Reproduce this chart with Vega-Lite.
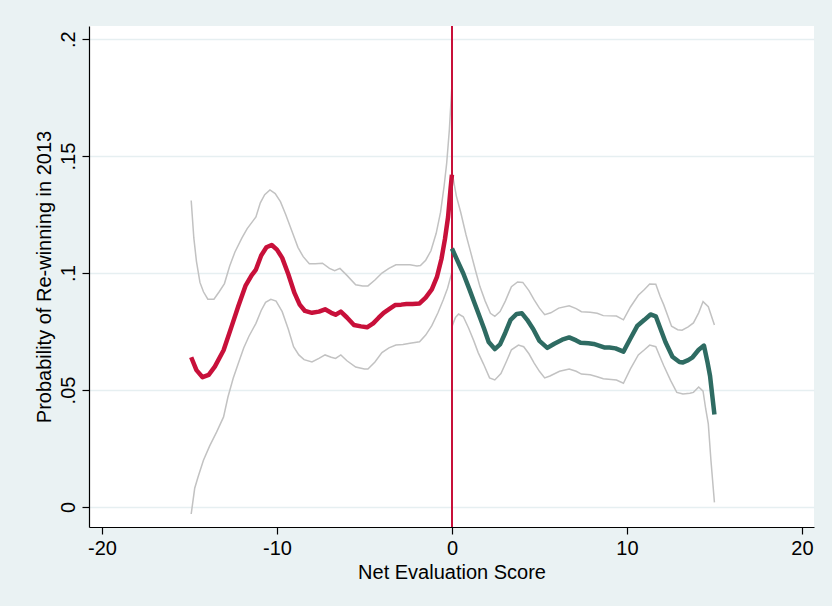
{
  "$schema": "https://vega.github.io/schema/vega-lite/v6.json",
  "width": 725,
  "height": 501,
  "autosize": {"type": "none"},
  "padding": {"left": 89, "top": 26, "right": 18, "bottom": 79},
  "background": "#EAF2F3",
  "config": {
    "view": {"stroke": null, "fill": "white"},
    "font": "Liberation Sans",
    "axis": {
      "domainColor": "#000000",
      "domainWidth": 1.2,
      "tickColor": "#000000",
      "tickWidth": 1.2,
      "tickSize": 7,
      "labelFontSize": 20,
      "labelColor": "#000000",
      "titleFontSize": 20,
      "titleFontWeight": "normal",
      "titleColor": "#000000"
    }
  },
  "data": {
    "values": [
      {"s":"fitL","x":-14.9,"y":0.0640},{"s":"fitL","x":-14.6,"y":0.0585},{"s":"fitL","x":-14.25,"y":0.0555},{"s":"fitL","x":-13.9,"y":0.0565},{"s":"fitL","x":-13.55,"y":0.0600},{"s":"fitL","x":-13.05,"y":0.0670},{"s":"fitL","x":-12.6,"y":0.0770},{"s":"fitL","x":-12.2,"y":0.0860},{"s":"fitL","x":-11.8,"y":0.0945},{"s":"fitL","x":-11.45,"y":0.0990},{"s":"fitL","x":-11.2,"y":0.1015},{"s":"fitL","x":-10.9,"y":0.1075},{"s":"fitL","x":-10.6,"y":0.1110},{"s":"fitL","x":-10.3,"y":0.1120},{"s":"fitL","x":-10.0,"y":0.1100},{"s":"fitL","x":-9.7,"y":0.1065},{"s":"fitL","x":-9.35,"y":0.0995},{"s":"fitL","x":-9.0,"y":0.0915},{"s":"fitL","x":-8.7,"y":0.0865},{"s":"fitL","x":-8.4,"y":0.0838},{"s":"fitL","x":-8.0,"y":0.0830},{"s":"fitL","x":-7.6,"y":0.0835},{"s":"fitL","x":-7.25,"y":0.0845},{"s":"fitL","x":-6.9,"y":0.0830},{"s":"fitL","x":-6.65,"y":0.0822},{"s":"fitL","x":-6.35,"y":0.0835},{"s":"fitL","x":-6.0,"y":0.0810},{"s":"fitL","x":-5.6,"y":0.0778},{"s":"fitL","x":-5.2,"y":0.0772},{"s":"fitL","x":-4.85,"y":0.0768},{"s":"fitL","x":-4.5,"y":0.0785},{"s":"fitL","x":-4.2,"y":0.0808},{"s":"fitL","x":-3.9,"y":0.0830},{"s":"fitL","x":-3.55,"y":0.0848},{"s":"fitL","x":-3.25,"y":0.0863},{"s":"fitL","x":-2.9,"y":0.0865},{"s":"fitL","x":-2.6,"y":0.0868},{"s":"fitL","x":-2.25,"y":0.0868},{"s":"fitL","x":-1.85,"y":0.0870},{"s":"fitL","x":-1.5,"y":0.0895},{"s":"fitL","x":-1.15,"y":0.0930},{"s":"fitL","x":-0.85,"y":0.0985},{"s":"fitL","x":-0.6,"y":0.1060},{"s":"fitL","x":-0.4,"y":0.1145},{"s":"fitL","x":-0.22,"y":0.1240},{"s":"fitL","x":-0.08,"y":0.1360},{"s":"fitL","x":0,"y":0.1420},
      {"s":"hiL","x":-14.9,"y":0.1310},{"s":"hiL","x":-14.75,"y":0.1150},{"s":"hiL","x":-14.6,"y":0.1050},{"s":"hiL","x":-14.4,"y":0.0960},{"s":"hiL","x":-14.2,"y":0.0920},{"s":"hiL","x":-13.95,"y":0.0888},{"s":"hiL","x":-13.6,"y":0.0888},{"s":"hiL","x":-13.3,"y":0.0920},{"s":"hiL","x":-13.0,"y":0.0955},{"s":"hiL","x":-12.7,"y":0.1030},{"s":"hiL","x":-12.4,"y":0.1090},{"s":"hiL","x":-12.0,"y":0.1150},{"s":"hiL","x":-11.7,"y":0.1190},{"s":"hiL","x":-11.4,"y":0.1220},{"s":"hiL","x":-11.2,"y":0.1240},{"s":"hiL","x":-10.95,"y":0.1300},{"s":"hiL","x":-10.7,"y":0.1335},{"s":"hiL","x":-10.4,"y":0.1355},{"s":"hiL","x":-10.1,"y":0.1340},{"s":"hiL","x":-9.8,"y":0.1305},{"s":"hiL","x":-9.5,"y":0.1250},{"s":"hiL","x":-9.1,"y":0.1170},{"s":"hiL","x":-8.8,"y":0.1110},{"s":"hiL","x":-8.5,"y":0.1070},{"s":"hiL","x":-8.15,"y":0.1040},{"s":"hiL","x":-7.8,"y":0.1040},{"s":"hiL","x":-7.4,"y":0.1042},{"s":"hiL","x":-7.0,"y":0.1020},{"s":"hiL","x":-6.7,"y":0.1010},{"s":"hiL","x":-6.4,"y":0.1020},{"s":"hiL","x":-6.0,"y":0.0990},{"s":"hiL","x":-5.5,"y":0.0950},{"s":"hiL","x":-5.1,"y":0.0945},{"s":"hiL","x":-4.8,"y":0.0945},{"s":"hiL","x":-4.4,"y":0.0970},{"s":"hiL","x":-4.0,"y":0.1000},{"s":"hiL","x":-3.6,"y":0.1020},{"s":"hiL","x":-3.2,"y":0.1035},{"s":"hiL","x":-2.8,"y":0.1035},{"s":"hiL","x":-2.4,"y":0.1035},{"s":"hiL","x":-2.0,"y":0.1030},{"s":"hiL","x":-1.8,"y":0.1032},{"s":"hiL","x":-1.5,"y":0.1055},{"s":"hiL","x":-1.2,"y":0.1095},{"s":"hiL","x":-0.9,"y":0.1170},{"s":"hiL","x":-0.65,"y":0.1260},{"s":"hiL","x":-0.45,"y":0.1370},{"s":"hiL","x":-0.3,"y":0.1470},{"s":"hiL","x":-0.15,"y":0.1610},{"s":"hiL","x":0,"y":0.1805},
      {"s":"loL","x":-14.9,"y":-0.0030},{"s":"loL","x":-14.7,"y":0.0080},{"s":"loL","x":-14.5,"y":0.0130},{"s":"loL","x":-14.2,"y":0.0200},{"s":"loL","x":-13.85,"y":0.0260},{"s":"loL","x":-13.45,"y":0.0320},{"s":"loL","x":-13.05,"y":0.0385},{"s":"loL","x":-12.8,"y":0.0470},{"s":"loL","x":-12.5,"y":0.0550},{"s":"loL","x":-12.2,"y":0.0615},{"s":"loL","x":-11.9,"y":0.0680},{"s":"loL","x":-11.6,"y":0.0730},{"s":"loL","x":-11.2,"y":0.0785},{"s":"loL","x":-10.9,"y":0.0840},{"s":"loL","x":-10.65,"y":0.0875},{"s":"loL","x":-10.35,"y":0.0888},{"s":"loL","x":-10.05,"y":0.0880},{"s":"loL","x":-9.7,"y":0.0835},{"s":"loL","x":-9.35,"y":0.0760},{"s":"loL","x":-9.05,"y":0.0685},{"s":"loL","x":-8.75,"y":0.0650},{"s":"loL","x":-8.45,"y":0.0630},{"s":"loL","x":-8.0,"y":0.0620},{"s":"loL","x":-7.6,"y":0.0635},{"s":"loL","x":-7.25,"y":0.0650},{"s":"loL","x":-6.9,"y":0.0640},{"s":"loL","x":-6.65,"y":0.0635},{"s":"loL","x":-6.35,"y":0.0650},{"s":"loL","x":-6.0,"y":0.0625},{"s":"loL","x":-5.5,"y":0.0598},{"s":"loL","x":-5.0,"y":0.0590},{"s":"loL","x":-4.8,"y":0.0590},{"s":"loL","x":-4.4,"y":0.0620},{"s":"loL","x":-4.0,"y":0.0660},{"s":"loL","x":-3.6,"y":0.0680},{"s":"loL","x":-3.2,"y":0.0692},{"s":"loL","x":-2.8,"y":0.0695},{"s":"loL","x":-2.4,"y":0.0700},{"s":"loL","x":-1.85,"y":0.0706},{"s":"loL","x":-1.5,"y":0.0735},{"s":"loL","x":-1.15,"y":0.0775},{"s":"loL","x":-0.8,"y":0.0830},{"s":"loL","x":-0.5,"y":0.0885},{"s":"loL","x":-0.25,"y":0.0935},{"s":"loL","x":0,"y":0.1005},
      {"s":"fitR","x":0,"y":0.1105},{"s":"fitR","x":0.3,"y":0.1055},{"s":"fitR","x":0.65,"y":0.0998},{"s":"fitR","x":1.0,"y":0.0930},{"s":"fitR","x":1.3,"y":0.0870},{"s":"fitR","x":1.6,"y":0.0810},{"s":"fitR","x":1.85,"y":0.0760},{"s":"fitR","x":2.1,"y":0.0705},{"s":"fitR","x":2.45,"y":0.0675},{"s":"fitR","x":2.75,"y":0.0695},{"s":"fitR","x":3.05,"y":0.0745},{"s":"fitR","x":3.35,"y":0.0800},{"s":"fitR","x":3.7,"y":0.0825},{"s":"fitR","x":4.0,"y":0.0828},{"s":"fitR","x":4.3,"y":0.0800},{"s":"fitR","x":4.65,"y":0.0760},{"s":"fitR","x":5.0,"y":0.0710},{"s":"fitR","x":5.45,"y":0.0680},{"s":"fitR","x":5.85,"y":0.0698},{"s":"fitR","x":6.3,"y":0.0715},{"s":"fitR","x":6.7,"y":0.0725},{"s":"fitR","x":7.1,"y":0.0712},{"s":"fitR","x":7.35,"y":0.0702},{"s":"fitR","x":7.8,"y":0.0700},{"s":"fitR","x":8.1,"y":0.0697},{"s":"fitR","x":8.4,"y":0.0690},{"s":"fitR","x":8.7,"y":0.0682},{"s":"fitR","x":9.0,"y":0.0682},{"s":"fitR","x":9.35,"y":0.0678},{"s":"fitR","x":9.8,"y":0.0664},{"s":"fitR","x":10.2,"y":0.0720},{"s":"fitR","x":10.6,"y":0.0775},{"s":"fitR","x":11.0,"y":0.0800},{"s":"fitR","x":11.35,"y":0.0823},{"s":"fitR","x":11.65,"y":0.0815},{"s":"fitR","x":11.9,"y":0.0765},{"s":"fitR","x":12.2,"y":0.0705},{"s":"fitR","x":12.6,"y":0.0642},{"s":"fitR","x":13.0,"y":0.0620},{"s":"fitR","x":13.2,"y":0.0618},{"s":"fitR","x":13.5,"y":0.0628},{"s":"fitR","x":13.75,"y":0.0640},{"s":"fitR","x":14.1,"y":0.0672},{"s":"fitR","x":14.4,"y":0.0690},{"s":"fitR","x":14.6,"y":0.0620},{"s":"fitR","x":14.75,"y":0.0560},{"s":"fitR","x":15.0,"y":0.0395},
      {"s":"hiR","x":0,"y":0.1435},{"s":"hiR","x":0.25,"y":0.1330},{"s":"hiR","x":0.5,"y":0.1260},{"s":"hiR","x":0.8,"y":0.1165},{"s":"hiR","x":1.05,"y":0.1095},{"s":"hiR","x":1.35,"y":0.1010},{"s":"hiR","x":1.6,"y":0.0942},{"s":"hiR","x":1.9,"y":0.0880},{"s":"hiR","x":2.2,"y":0.0828},{"s":"hiR","x":2.45,"y":0.0815},{"s":"hiR","x":2.75,"y":0.0835},{"s":"hiR","x":3.05,"y":0.0880},{"s":"hiR","x":3.4,"y":0.0942},{"s":"hiR","x":3.75,"y":0.0962},{"s":"hiR","x":4.05,"y":0.0960},{"s":"hiR","x":4.4,"y":0.0925},{"s":"hiR","x":4.7,"y":0.0885},{"s":"hiR","x":5.0,"y":0.0850},{"s":"hiR","x":5.3,"y":0.0822},{"s":"hiR","x":5.65,"y":0.0830},{"s":"hiR","x":6.1,"y":0.0850},{"s":"hiR","x":6.7,"y":0.0860},{"s":"hiR","x":7.1,"y":0.0848},{"s":"hiR","x":7.4,"y":0.0835},{"s":"hiR","x":7.9,"y":0.0832},{"s":"hiR","x":8.3,"y":0.0828},{"s":"hiR","x":8.65,"y":0.0818},{"s":"hiR","x":9.4,"y":0.0816},{"s":"hiR","x":9.8,"y":0.0800},{"s":"hiR","x":10.2,"y":0.0855},{"s":"hiR","x":10.65,"y":0.0905},{"s":"hiR","x":11.0,"y":0.0930},{"s":"hiR","x":11.3,"y":0.0953},{"s":"hiR","x":11.65,"y":0.0952},{"s":"hiR","x":11.9,"y":0.0900},{"s":"hiR","x":12.1,"y":0.0865},{"s":"hiR","x":12.55,"y":0.0773},{"s":"hiR","x":12.9,"y":0.0758},{"s":"hiR","x":13.15,"y":0.0756},{"s":"hiR","x":13.5,"y":0.0770},{"s":"hiR","x":13.8,"y":0.0787},{"s":"hiR","x":14.1,"y":0.0830},{"s":"hiR","x":14.35,"y":0.0878},{"s":"hiR","x":14.65,"y":0.0856},{"s":"hiR","x":15.0,"y":0.0778},
      {"s":"loR","x":0,"y":0.0771},{"s":"loR","x":0.2,"y":0.0810},{"s":"loR","x":0.38,"y":0.0825},{"s":"loR","x":0.65,"y":0.0813},{"s":"loR","x":0.95,"y":0.0765},{"s":"loR","x":1.25,"y":0.0710},{"s":"loR","x":1.5,"y":0.0660},{"s":"loR","x":1.8,"y":0.0612},{"s":"loR","x":2.15,"y":0.0552},{"s":"loR","x":2.45,"y":0.0543},{"s":"loR","x":2.8,"y":0.0570},{"s":"loR","x":3.1,"y":0.0620},{"s":"loR","x":3.4,"y":0.0672},{"s":"loR","x":3.8,"y":0.0692},{"s":"loR","x":4.1,"y":0.0685},{"s":"loR","x":4.4,"y":0.0655},{"s":"loR","x":4.7,"y":0.0615},{"s":"loR","x":5.0,"y":0.0580},{"s":"loR","x":5.3,"y":0.0552},{"s":"loR","x":5.6,"y":0.0560},{"s":"loR","x":6.15,"y":0.0580},{"s":"loR","x":6.7,"y":0.0590},{"s":"loR","x":7.1,"y":0.0580},{"s":"loR","x":7.4,"y":0.0568},{"s":"loR","x":7.9,"y":0.0565},{"s":"loR","x":8.3,"y":0.0557},{"s":"loR","x":8.65,"y":0.0548},{"s":"loR","x":9.4,"y":0.0543},{"s":"loR","x":9.8,"y":0.0529},{"s":"loR","x":10.2,"y":0.0590},{"s":"loR","x":10.65,"y":0.0650},{"s":"loR","x":11.0,"y":0.0672},{"s":"loR","x":11.3,"y":0.0692},{"s":"loR","x":11.65,"y":0.0685},{"s":"loR","x":11.9,"y":0.0640},{"s":"loR","x":12.1,"y":0.0605},{"s":"loR","x":12.5,"y":0.0540},{"s":"loR","x":12.85,"y":0.0490},{"s":"loR","x":13.2,"y":0.0483},{"s":"loR","x":13.6,"y":0.0486},{"s":"loR","x":13.8,"y":0.0490},{"s":"loR","x":14.1,"y":0.0513},{"s":"loR","x":14.35,"y":0.0495},{"s":"loR","x":14.5,"y":0.0420},{"s":"loR","x":14.65,"y":0.0355},{"s":"loR","x":14.8,"y":0.0200},{"s":"loR","x":15.0,"y":0.0020}
    ]
  },
  "layer": [
    {
      "transform": [{"filter": "indexof(['hiL','loL','hiR','loR'], datum.s) >= 0"}],
      "mark": {"type": "line", "color": "#C2C2C2", "strokeWidth": 1.5},
      "encoding": {
        "x": {"field": "x", "type": "quantitative", "title": "Net Evaluation Score",
              "scale": {"domain": [-20.74, 20.69], "nice": false, "zero": false},
              "axis": {"values": [-20, -10, 0, 10, 20], "grid": false, "labelPadding": 4, "titlePadding": 4,
                       "labelExpr": "toString(datum.value)"}},
        "y": {"field": "y", "type": "quantitative", "title": "Probability of Re-winning in 2013",
              "scale": {"domain": [-0.00855, 0.2056], "nice": false, "zero": false},
              "axis": {"values": [0, 0.05, 0.1, 0.15, 0.2], "grid": true, "gridColor": "#E6EFF1", "gridWidth": 1.5,
                       "labelAngle": -90, "labelAlign": "center", "labelBaseline": "bottom", "labelPadding": 4, "titlePadding": 4,
                       "labelExpr": "datum.value == 0 ? '0' : substring(toString(datum.value), 1)"}},
        "detail": {"field": "s"},
        "order": {"field": "x", "type": "quantitative"}
      }
    },
    {
      "mark": {"type": "rule", "color": "#C8103A", "strokeWidth": 1.5},
      "encoding": {
        "x": {"datum": 0, "type": "quantitative", "title": "Net Evaluation Score"}
      }
    },
    {
      "transform": [{"filter": "datum.s == 'fitL' || datum.s == 'fitR'"}],
      "mark": {"type": "line", "strokeWidth": 4.5, "strokeJoin": "round", "strokeCap": "butt"},
      "encoding": {
        "x": {"field": "x", "type": "quantitative", "title": "Net Evaluation Score"},
        "y": {"field": "y", "type": "quantitative", "title": "Probability of Re-winning in 2013"},
        "color": {"field": "s", "type": "nominal", "scale": {"domain": ["fitL", "fitR"], "range": ["#C8103A", "#2E6B62"]}, "legend": null},
        "order": {"field": "x", "type": "quantitative"}
      }
    }
  ]
}
